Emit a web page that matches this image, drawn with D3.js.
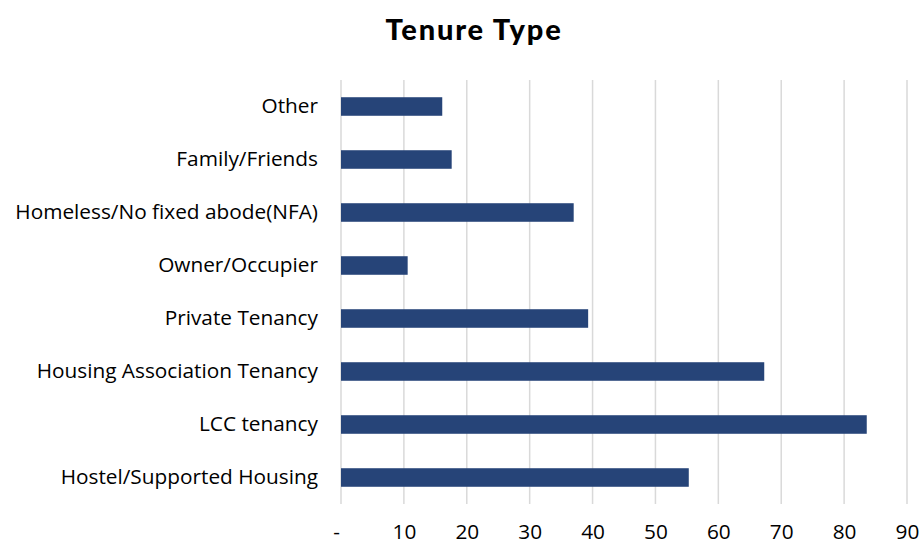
<!DOCTYPE html>
<html>
<head>
<meta charset="utf-8">
<script src="https://cdn.jsdelivr.net/npm/d3@7"></script>
<style>
  body { margin: 0; background: #fff; }
  text { font-family: "Open Sans", sans-serif; fill: #000; }
</style>
</head>
<body>
<svg id="chart" width="921" height="544"></svg>
<script>
// categories top to bottom, as in the picture
const categories = [
  "Other",
  "Family/Friends",
  "Homeless/No fixed abode(NFA)",
  "Owner/Occupier",
  "Private Tenancy",
  "Housing Association Tenancy",
  "LCC tenancy",
  "Hostel/Supported Housing"
];
const values = [16.1, 17.6, 37.0, 10.6, 39.3, 67.3, 83.6, 55.3];
const ticks = [0, 10, 20, 30, 40, 50, 60, 70, 80, 90];

const margin = { top: 80, right: 14, bottom: 40, left: 341 };

const svg = d3.select("#chart");
const g = svg.append("g")
  .attr("transform", `translate(${margin.left},${margin.top})`);

const x = d3.scaleLinear().domain([0, 90]).range([0, 566]);
const y = d3.scaleBand().domain(categories).range([0, 424]).paddingInner(0.65).paddingOuter(0.325);

// vertical grid lines
g.append("g")
  .selectAll("line")
  .data(ticks)
  .join("line")
  .attr("x1", d => x(d)).attr("x2", d => x(d))
  .attr("y1", 0).attr("y2", 424)
  .attr("stroke", "#d9d9d9")
  .attr("stroke-width", 1.5);

// bars
g.selectAll(".bar")
  .data(values)
  .join("rect")
  .attr("class", "bar")
  .attr("x", x(0))
  .attr("y", (d, i) => y(categories[i]))
  .attr("width", d => x(d) - x(0))
  .attr("height", y.bandwidth())
  .attr("fill", "#264478");

// category axis
const yAxis = g.append("g")
  .call(d3.axisLeft(y).tickSize(0).tickPadding(23));
yAxis.select(".domain").remove();
yAxis.selectAll("text")
  .style("font-size", "20.8px")
  .style("font-family", "'Open Sans', sans-serif");

// value axis
const xAxis = g.append("g")
  .attr("transform", "translate(0,424)")
  .call(d3.axisBottom(x).tickValues(ticks).tickSize(0).tickPadding(20)
    .tickFormat(d => d === 0 ? "-" : d));
xAxis.select(".domain").remove();
xAxis.selectAll("text")
  .style("font-size", "20.8px")
  .style("font-family", "'Open Sans', sans-serif");
xAxis.selectAll(".tick").filter(d => d === 0).select("text").attr("dx", -5);

// title
svg.append("text")
  .attr("x", 474)
  .attr("y", 40)
  .attr("text-anchor", "middle")
  .style("font-size", "29px")
  .style("font-weight", "900")
  .style("font-family", "Lato, sans-serif")
  .style("letter-spacing", "1.8px")
  .text("Tenure Type");
</script>
</body>
</html>
